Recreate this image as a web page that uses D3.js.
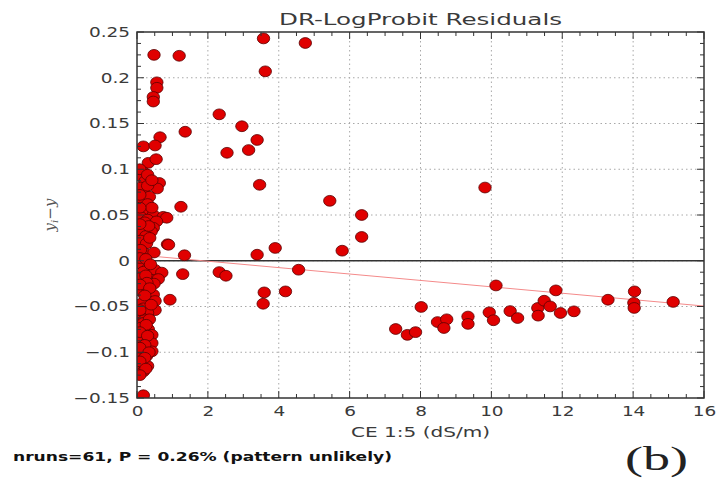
<!DOCTYPE html>
<html>
<head>
<meta charset="utf-8">
<script src="https://cdn.jsdelivr.net/npm/d3@7"></script>
<style>
  body { margin: 0; background: #fff; }
  svg { display: block; font-family: "DejaVu Sans", sans-serif; }
</style>
</head>
<body>
<div id="chart"></div>
<script>
// residuals: [CE 1:5, yi - y]
const clusterPoints = [
  [0.48,0.225],[0.56,0.195],[0.56,0.189],[0.46,0.179],[0.46,0.174],[0.65,0.135],[0.18,0.125],[0.51,0.126],
  [0.32,0.107],[0.54,0.111],[0.2,0.096],[0.12,0.092],[0.23,0.087],[0.63,0.085],[0.57,0.079],[0.18,0.076],
  [0.1,0.08],[0.3,0.082],[0.23,0.067],[0.13,0.065],[0.35,0.07],[0.18,0.052],[0.46,0.05],[0.74,0.048],
  [0.84,0.047],[0.1,0.048],[0.3,0.045],[0.55,0.043],[0.18,0.037],[0.46,0.036],[0.12,0.032],[0.4,0.032],
  [0.25,0.027],[0.1,0.022],[0.27,0.019],[0.86,0.018],[0.18,0.009],[0.48,0.009],[0.1,0.012],
  [0.13,-0.004],[0.32,-0.008],[0.18,-0.012],[0.51,-0.01],[0.7,-0.013],[0.1,-0.019],[0.42,-0.021],[0.6,-0.02],
  [0.25,-0.016],[0.18,-0.028],[0.48,-0.025],[0.1,-0.033],[0.3,-0.035],[0.46,-0.037],[0.27,-0.043],[0.51,-0.044],
  [0.12,-0.047],[0.18,-0.052],[0.51,-0.054],[0.3,-0.057],[0.1,-0.061],[0.2,-0.065],[0.18,-0.068],[0.32,-0.075],
  [0.12,-0.073],[0.18,-0.083],[0.42,-0.081],[0.1,-0.088],[0.27,-0.09],[0.42,-0.09],[0.18,-0.097],[0.42,-0.099],
  [0.1,-0.102],[0.27,-0.104],[0.18,-0.11],[0.3,-0.115],[0.1,-0.117],[0.18,-0.121],[0.18,-0.147],
  [0.08,0.1],[0.3,0.094],[0.42,0.088],[0.08,0.072],[0.3,0.062],[0.42,0.058],[0.08,0.058],[0.22,0.042],
  [0.33,0.038],[0.08,0.04],[0.36,0.025],[0.08,0.003],[0.25,0.002],[0.38,-0.004],[0.28,-0.024],[0.08,-0.026],
  [0.36,-0.03],[0.22,-0.038],[0.4,-0.048],[0.08,-0.054],[0.35,-0.064],[0.26,-0.07],[0.08,-0.078],[0.3,-0.082],
  [0.22,-0.092],[0.08,-0.095],[0.34,-0.1],[0.22,-0.106],[0.08,-0.11],[0.25,-0.118],[0.08,-0.125]
];
const spreadPoints = [
  [3.57,0.243],[4.75,0.238],[3.62,0.207],[1.19,0.224],[2.32,0.16],[2.96,0.147],[1.36,0.141],[3.39,0.132],
  [3.15,0.121],[2.54,0.118],[3.46,0.083],[5.44,0.0655],[1.24,0.059],[6.34,0.05],[6.34,0.026],[9.82,0.08],
  [0.89,0.0175],[1.34,0.006],[3.9,0.014],[3.39,0.0066],[5.79,0.011],[1.29,-0.0146],[2.32,-0.0124],[2.51,-0.0164],
  [4.56,-0.0098],[0.93,-0.0426],[3.59,-0.0346],[3.56,-0.047],[4.19,-0.0335],
  [10.13,-0.027],[11.82,-0.0324],[13.29,-0.0426],[14.04,-0.0335],[14.02,-0.046],[14.03,-0.0516],[15.13,-0.045],
  [8.02,-0.0505],[7.3,-0.0746],[7.63,-0.081],[7.86,-0.078],[8.48,-0.067],[8.74,-0.064],[8.66,-0.0735],
  [9.34,-0.061],[9.34,-0.069],[9.94,-0.0564],[10.06,-0.065],[10.53,-0.055],[10.74,-0.0626],[11.31,-0.0516],
  [11.32,-0.06],[11.49,-0.0437],[11.66,-0.0499],[11.95,-0.0571],[12.33,-0.0553]
];
// fitted trend of residuals: [x, y] at the ends
const trendLine = [[0, 0.0065], [16, -0.0495]];

const xTicks = [0, 2, 4, 6, 8, 10, 12, 14, 16];
const xTickLabels = ["0", "2", "4", "6", "8", "10", "12", "14", "16"];
const yTicks = [-0.15, -0.1, -0.05, 0, 0.05, 0.1, 0.15, 0.2, 0.25];
const yTickLabels = ["\u22120.15", "\u22120.1", "\u22120.05", "0", "0.05", "0.1", "0.15", "0.2", "0.25"];

const W = 718, H = 482;
const margin = {left: 137, top: 32, right: 14, bottom: 84};
const iw = W - margin.left - margin.right;
const ih = H - margin.top - margin.bottom;
const stretch = 1.32;

const svg = d3.select("#chart").append("svg")
  .attr("width", W).attr("height", H);

const x = d3.scaleLinear().domain([0, 16]).range([0, iw]);
const y = d3.scaleLinear().domain([-0.15, 0.25]).range([ih, 0]);

const g = svg.append("g").attr("transform", `translate(${margin.left},${margin.top})`);

svg.append("defs").append("clipPath").attr("id", "plotclip")
  .append("rect").attr("width", iw).attr("height", ih);

// grid lines
g.append("g").selectAll("line").data(xTicks.slice(1, -1)).join("line")
  .attr("x1", d => x(d)).attr("x2", d => x(d))
  .attr("y1", 0).attr("y2", ih)
  .attr("stroke", "#a8a8a8").attr("stroke-dasharray", "1.5,3");
g.append("g").selectAll("line").data(yTicks.slice(1, -1)).join("line")
  .attr("y1", d => y(d)).attr("y2", d => y(d))
  .attr("x1", 0).attr("x2", iw)
  .attr("stroke", "#a8a8a8").attr("stroke-dasharray", "1.5,3");

// zero line
g.append("line")
  .attr("x1", x(0)).attr("x2", x(16))
  .attr("y1", y(0)).attr("y2", y(0))
  .attr("stroke", "#333").attr("stroke-width", 1.4);

// trend line
g.append("line")
  .attr("x1", x(trendLine[0][0])).attr("y1", y(trendLine[0][1]))
  .attr("x2", x(trendLine[1][0])).attr("y2", y(trendLine[1][1]))
  .attr("stroke", "#f48a8a").attr("stroke-width", 1);

// points
const pts = g.append("g").attr("clip-path", "url(#plotclip)");
pts.selectAll("ellipse").data(clusterPoints.concat(spreadPoints)).join("ellipse")
  .attr("cx", d => x(d[0])).attr("cy", d => y(d[1]))
  .attr("rx", 6.2).attr("ry", 5.4)
  .attr("fill", "#e00000")
  .attr("stroke", "#5a0000").attr("stroke-width", 0.8);

// minor ticks on all sides (inward)
const xMinor = d3.range(0, 16.01, 0.5);
const yMinor = d3.range(-0.15, 0.2501, 0.0125);
const tickG = g.append("g").attr("stroke", "#333");
tickG.selectAll(".xb").data(xMinor).join("line").attr("class", "xb")
  .attr("x1", d => x(d)).attr("x2", d => x(d))
  .attr("y1", ih).attr("y2", d => ih - (xTicks.includes(d) ? 7 : 4));
tickG.selectAll(".xt").data(xMinor).join("line").attr("class", "xt")
  .attr("x1", d => x(d)).attr("x2", d => x(d))
  .attr("y1", 0).attr("y2", d => (xTicks.includes(d) ? 7 : 4));
tickG.selectAll(".yl").data(yMinor).join("line").attr("class", "yl")
  .attr("y1", d => y(d)).attr("y2", d => y(d))
  .attr("x1", 0).attr("x2", (d, i) => (i % 4 === 0 ? 7 : 4));
tickG.selectAll(".yr").data(yMinor).join("line").attr("class", "yr")
  .attr("y1", d => y(d)).attr("y2", d => y(d))
  .attr("x1", iw).attr("x2", (d, i) => iw - (i % 4 === 0 ? 7 : 4));

// axes labels
const xAxis = d3.axisBottom(x).tickValues(xTicks)
  .tickFormat((d, i) => xTickLabels[i]).tickSize(0);
const gx = g.append("g").attr("transform", `translate(0,${ih})`).call(xAxis);
gx.select(".domain").remove();
gx.selectAll("text")
  .attr("y", 0)
  .attr("transform", `translate(0,8) scale(${stretch},1)`)
  .attr("font-size", 14).attr("font-family", "DejaVu Sans").attr("fill", "#3a3a3a");

const yAxis = d3.axisLeft(y).tickValues(yTicks)
  .tickFormat((d, i) => yTickLabels[i]).tickSize(0);
const gy = g.append("g").call(yAxis);
gy.select(".domain").remove();
gy.selectAll("text")
  .attr("x", 0)
  .attr("transform", `translate(-7,0) scale(${stretch},1)`)
  .attr("font-size", 14).attr("font-family", "DejaVu Sans").attr("fill", "#3a3a3a");

// frame
g.append("rect").attr("width", iw).attr("height", ih)
  .attr("fill", "none").attr("stroke", "#333").attr("stroke-width", 1.5);

// title
svg.append("text")
  .attr("x", margin.left + iw / 2).attr("y", 25)
  .attr("text-anchor", "middle")
  .attr("font-size", 16).attr("fill", "#3a3a3a")
  .attr("textLength", 283).attr("lengthAdjust", "spacingAndGlyphs")
  .text("DR-LogProbit Residuals");

// x label
svg.append("text")
  .attr("x", margin.left + iw / 2).attr("y", 437)
  .attr("text-anchor", "middle")
  .attr("font-size", 14).attr("fill", "#3a3a3a")
  .attr("textLength", 139).attr("lengthAdjust", "spacingAndGlyphs")
  .text("CE 1:5 (dS/m)");

// y label
const yl = svg.append("text")
  .attr("transform", `translate(55,${margin.top + ih / 2}) rotate(-90)`)
  .attr("text-anchor", "middle")
  .attr("font-size", 15).attr("font-style", "italic")
  .attr("font-family", "DejaVu Serif").attr("fill", "#555");
yl.append("tspan").text("y");
yl.append("tspan").attr("font-size", 10).attr("dy", 3).text("i");
yl.append("tspan").attr("dy", -3).attr("font-style", "normal").text("\u2212");
yl.append("tspan").text("y");

// run test note
svg.append("text")
  .attr("x", 13).attr("y", 461)
  .attr("font-size", 12.5).attr("font-weight", "bold").attr("fill", "#111")
  .attr("textLength", 379).attr("lengthAdjust", "spacingAndGlyphs")
  .text("nruns=61, P = 0.26% (pattern unlikely)");

// panel label
svg.append("text")
  .attr("x", 625).attr("y", 470)
  .attr("font-size", 33).attr("font-family", "Liberation Serif, serif").attr("fill", "#222")
  .attr("textLength", 63).attr("lengthAdjust", "spacingAndGlyphs")
  .text("(b)");
</script>
</body>
</html>
